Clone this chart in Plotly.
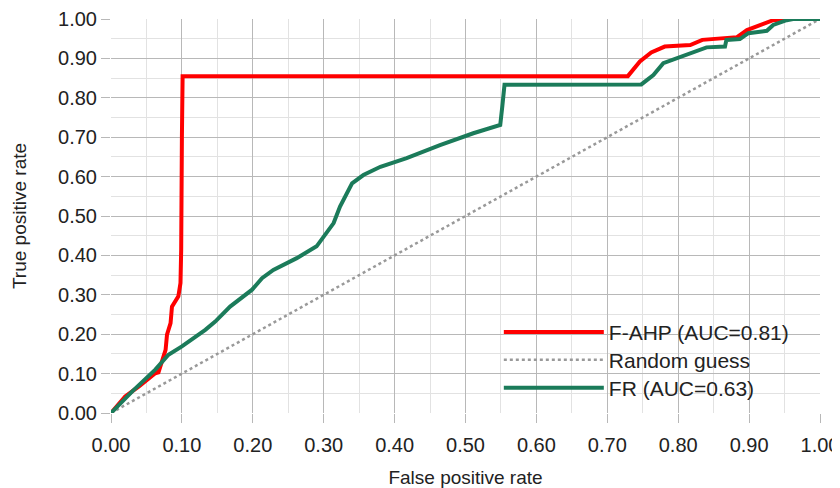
import plotly.graph_objects as go

# F-AHP ROC curve
fahp_fpr = [0.0, 0.020, 0.039, 0.0625, 0.067, 0.077, 0.079, 0.084, 0.086, 0.091, 0.095, 0.098, 0.099,
            0.100, 0.101, 0.729, 0.746, 0.762, 0.781, 0.817, 0.834, 0.883, 0.897, 0.934, 0.955, 1.0]
fahp_tpr = [0.0, 0.042, 0.067, 0.101, 0.103, 0.160, 0.199, 0.228, 0.270, 0.283, 0.296, 0.330, 0.414,
            0.700, 0.855, 0.855, 0.892, 0.915, 0.930, 0.934, 0.947, 0.954, 0.972, 0.997, 1.0, 1.0]

# FR ROC curve
fr_fpr = [0.0, 0.030, 0.0625, 0.081, 0.100, 0.133, 0.147, 0.168, 0.199, 0.213, 0.229, 0.262, 0.290,
          0.314, 0.323, 0.333, 0.340, 0.356, 0.380, 0.417, 0.464, 0.511, 0.549, 0.552, 0.555,
          0.748, 0.765, 0.779, 0.803, 0.826, 0.840, 0.866, 0.868, 0.887, 0.899, 0.925, 0.934, 0.953,
          0.962, 1.0]
fr_tpr = [0.0, 0.055, 0.110, 0.148, 0.169, 0.211, 0.232, 0.270, 0.313, 0.342, 0.363, 0.393, 0.423,
          0.482, 0.524, 0.558, 0.583, 0.604, 0.625, 0.647, 0.680, 0.710, 0.731, 0.780, 0.833,
          0.834, 0.858, 0.888, 0.904, 0.917, 0.928, 0.930, 0.947, 0.949, 0.964, 0.970, 0.985, 0.997,
          1.0, 1.0]

# Random guess diagonal
rand_fpr = [0.0, 1.0]
rand_tpr = [0.0, 1.0]

tick_vals = [i / 10 for i in range(11)]
tick_text = [f"{v:.2f}" for v in tick_vals]

FONT = "Liberation Sans, Arial, sans-serif"
TXT = "#222222"

fig = go.Figure()
fig.add_trace(go.Scatter(x=fahp_fpr, y=fahp_tpr, mode="lines", name="F-AHP (AUC=0.81)",
                         line=dict(color="#ff0000", width=4), legend="legend"))
fig.add_trace(go.Scatter(x=rand_fpr, y=rand_tpr, mode="lines", name="Random guess",
                         line=dict(color="#999999", width=2.5, dash="dot"), legend="legend2"))
fig.add_trace(go.Scatter(x=fr_fpr, y=fr_tpr, mode="lines", name="FR (AUC=0.63)",
                         line=dict(color="#1b7b5a", width=4), legend="legend3"))

axis_common = dict(
    range=[0, 1], tickvals=tick_vals, ticktext=tick_text,
    showgrid=True, gridcolor="#b8b8b8", gridwidth=1,
    minor=dict(dtick=0.05, showgrid=True, gridcolor="#e2e2e2", gridwidth=1),
    zeroline=False, showline=False, automargin=False,
    tickfont=dict(family=FONT, size=20, color=TXT),
    ticks="outside", ticklen=9, tickcolor="#b8b8b8",
)

leg_common = dict(x=0.547, xanchor="left", yanchor="top", bgcolor="rgba(0,0,0,0)", borderwidth=0,
                  font=dict(family=FONT, size=21, color=TXT), itemwidth=100)

fig.update_layout(
    width=832, height=480,
    margin=dict(l=103, r=20, t=11, b=75),
    paper_bgcolor="white", plot_bgcolor="white",
    font=dict(family=FONT, color=TXT),
    xaxis=dict(**axis_common, ticklabelstandoff=5,
               title=dict(text="False positive rate", font=dict(family=FONT, size=19, color=TXT),
                          standoff=18)),
    yaxis=dict(**axis_common,
               title=dict(text="True positive rate", font=dict(family=FONT, size=19, color=TXT),
                          standoff=26)),
    legend=dict(**leg_common, y=0.257),
    legend2=dict(**leg_common, y=0.186),
    legend3=dict(**leg_common, y=0.115),
    shapes=[dict(type="rect", xref="paper", yref="paper", x0=0.535, x1=0.983, y0=0.016, y1=0.254,
                 fillcolor="white", line=dict(width=0), layer="between")],
    showlegend=True,
)

fig.write_html("out.html")
